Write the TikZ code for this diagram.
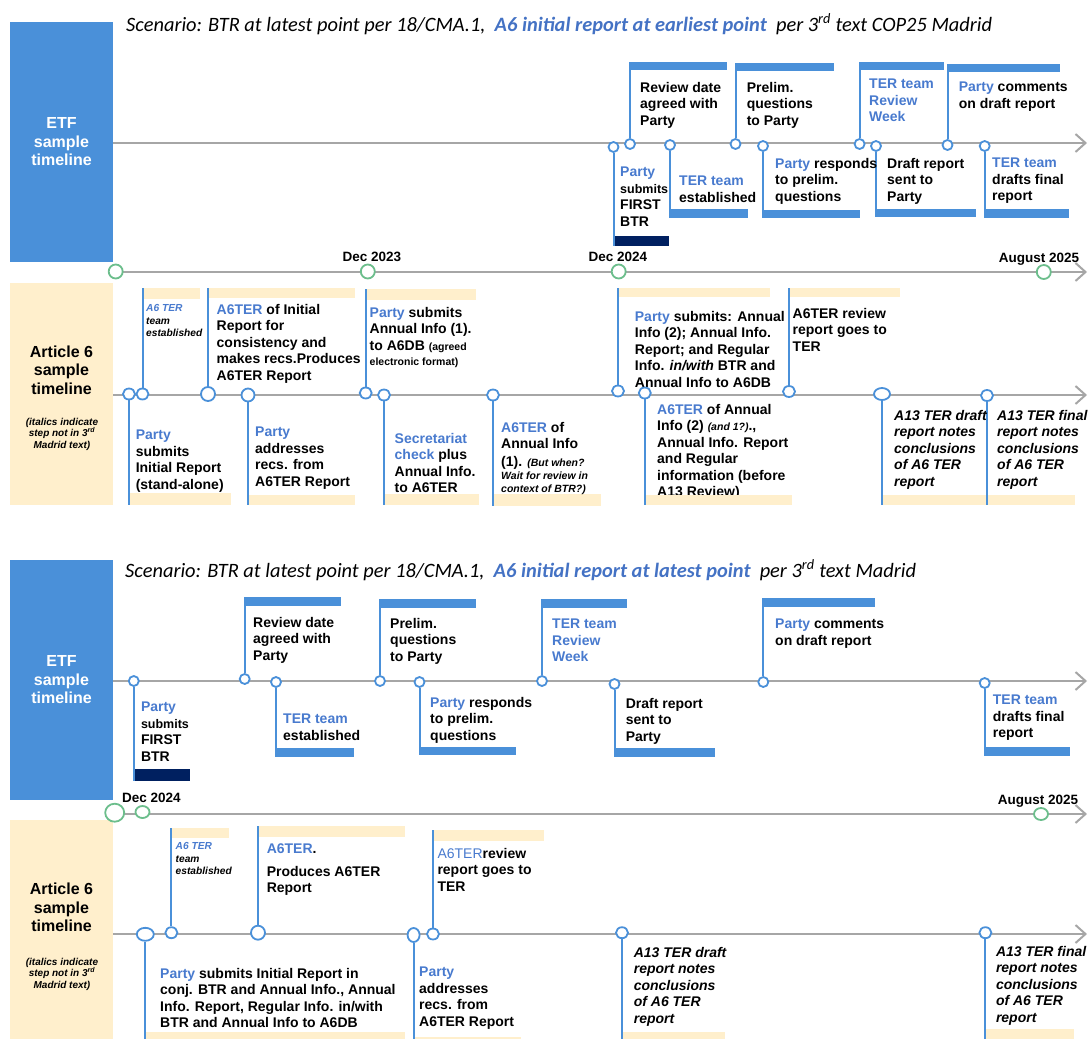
\documentclass[tikz,border=0pt]{standalone}
\usepackage{fontspec}
\setmainfont{Liberation Sans}
\newfontfamily\calib{Carlito}
\usetikzlibrary{arrows.meta,shapes.geometric}
\definecolor{bblue}{RGB}{74,144,217}
\definecolor{pblue}{RGB}{72,122,206}
\definecolor{tblue}{RGB}{68,114,196}
\definecolor{navy}{RGB}{0,32,96}
\definecolor{yel}{RGB}{255,239,204}
\definecolor{lgray}{RGB}{166,166,166}
\definecolor{ggreen}{RGB}{108,190,140}
\newcommand\sm[1]{{\fontsize{10.5}{12}\selectfont #1}}
\newcommand\smi[1]{{\fontsize{10.5}{12}\selectfont\itshape #1}}
% event: name, dot style, x, y, stem end y, bar colour, bar right x, bar other y
\newcommand\ev[8]{%
  \fill[#6] (#3-1,#5) rectangle (#7,#8);
  \node[#2] (#1) at (#3,#4) {};
  \coordinate (#1e) at (#3,#5);
  \draw[stem] (#1) -- (#1e);
}
\begin{document}
\begin{tikzpicture}[x=1pt,y=-1pt,
  tline/.style={draw=lgray,line width=2pt,-{Straight Barb[length=10pt,width=18pt]}},
  dot/.style={circle,draw=bblue,line width=1.8pt,fill=white,minimum size=10pt,inner sep=0pt},
  adot/.style={ellipse,draw=bblue,line width=1.8pt,fill=white,minimum width=12pt,minimum height=11pt,inner sep=0pt},
  gdot/.style={ellipse,draw=ggreen,line width=1.8pt,fill=white,minimum width=14pt,minimum height=14pt,inner sep=0pt},
  stem/.style={draw=bblue,line width=2pt},
  txt/.style={anchor=north west,inner sep=0pt,align=left,font=\bfseries\fontsize{14}{16.5}\selectfont},
  itxt/.style={txt,font=\bfseries\itshape\fontsize{14}{16.5}\selectfont},
  stxt/.style={txt,font=\bfseries\itshape\fontsize{10.2}{12.5}\selectfont},
  lbl/.style={inner sep=0pt,font=\bfseries\fontsize{13.5}{16}\selectfont},
  sidebox/.style={inner sep=0pt,align=center,font=\bfseries\fontsize{16}{18.5}\selectfont},
  notebox/.style={inner sep=0pt,align=center,font=\bfseries\itshape\fontsize{10}{11.5}\selectfont},
  ttl/.style={anchor=base west,inner sep=0pt,font=\calib\fontsize{20.4}{24}\selectfont},
]
\useasboundingbox (0,0) rectangle (1090,1039);

% ================= TOP SCENARIO =================
\node[ttl] (title1) at (126,31.5) {\itshape Scenario: BTR at latest point per 18/CMA.1,\ \ \textcolor{tblue}{\bfseries A6 initial report at earliest point}\ \ per 3\textsuperscript{rd} text COP25 Madrid};

\fill[bblue] (10,22) rectangle (113,262);
\node[sidebox,text=white] (etf1) at (61.5,142) {ETF\\sample\\timeline};
\coordinate (l1s) at (113,143); \coordinate (l1e) at (1087,143);
\draw[tline] (l1s) -- (l1e);

\ev{tA}{dot}{613.5}{147}{246}{navy}{669}{236}
\ev{tB}{dot}{630}{144}{62}{bblue}{727}{70}
\ev{tC}{dot}{670}{145}{218}{bblue}{748}{209}
\ev{tD}{dot}{735.5}{144}{63}{bblue}{833.5}{71}
\ev{tE}{dot}{763}{146}{218}{bblue}{860}{210}
\ev{tF}{dot}{859.6}{144}{62}{bblue}{943.7}{70}
\ev{tG}{dot}{876}{146}{217}{bblue}{976}{209}
\ev{tH}{dot}{947.5}{145}{64}{bblue}{1060}{72}
\ev{tI}{dot}{984.7}{146}{218}{bblue}{1068.8}{209}

\node[txt] (tAt) at (620,167) {\textcolor{pblue}{Party}\\{\fontsize{12.5}{15}\selectfont submits}\\FIRST\\BTR};
\node[txt] (tBt) at (640,82) {Review date\\agreed with\\Party};
\node[txt] (tCt) at (679,176) {\textcolor{pblue}{TER team}\\established};
\node[txt] (tDt) at (746.6,82) {Prelim.\\questions\\to Party};
\node[txt] (tEt) at (775,158) {\textcolor{pblue}{Party} responds\\to prelim.\\questions};
\node[txt,text=pblue] (tFt) at (869,79) {TER team\\Review\\Week};
\node[txt] (tGt) at (887,158) {Draft report\\sent to\\Party};
\node[txt] (tHt) at (958.6,82) {\textcolor{pblue}{Party} comments\\on draft report};
\node[txt] (tIt) at (992,158) {\textcolor{pblue}{TER team}\\drafts final\\report};

% divider 1
\coordinate (d1s) at (115,272); \coordinate (d1e) at (1087,272);
\draw[tline] (d1s) -- (d1e);
\node[gdot] (g1) at (115.7,271.5) {};
\node[gdot] (g2) at (367.8,271.5) {};
\node[gdot] (g3) at (618.7,271.5) {};
\node[gdot] (g4) at (1043.8,272) {};
\node[lbl] (g2l) at (372,257) {Dec 2023};
\node[lbl] (g3l) at (618,257) {Dec 2024};
\node[lbl] (g4l) at (1039,259) {August 2025};

% article 6 (top)
\fill[yel] (10,283) rectangle (113,505);
\node[sidebox] (art1) at (61.5,370) {Article 6\\sample\\timeline};
\node[notebox] (note1) at (62,434) {(italics indicate\\step not in 3\textsuperscript{rd}\\Madrid text)};
\coordinate (a1s) at (113,395); \coordinate (a1e) at (1087,395);
\draw[tline] (a1s) -- (a1e);

\ev{aA}{adot}{129}{394}{505}{yel}{231}{493}
\ev{aB}{adot}{142.5}{394}{288}{yel}{200}{299}
\ev{aC}{adot,minimum width=14pt,minimum height=14pt}{208}{394}{288}{yel}{354.5}{298}
\ev{aD}{adot,minimum width=13pt,minimum height=13pt}{248}{395}{505}{yel}{354.5}{495}
\ev{aE}{adot}{365.7}{393}{289}{yel}{475.5}{300}
\ev{aF}{adot}{384}{395}{505}{yel}{479}{494}
\ev{aG}{adot}{493}{395}{506}{yel}{600.7}{494}
\ev{aH}{adot}{618}{391}{288}{yel}{770}{297}

\node[txt] (aAt) at (135.6,430) {\textcolor{pblue}{Party}\\submits\\Initial Report\\(stand-alone)};
\node[stxt] (aBt) at (146,304.4) {\textcolor{pblue}{A6 TER}\\team\\established};
\node[txt] (aCt) at (216.5,304) {\textcolor{pblue}{A6TER} of Initial\\Report for\\consistency and\\makes recs.Produces\\A6TER Report};
\node[txt] (aDt) at (255,427) {\textcolor{pblue}{Party}\\addresses\\recs. from\\A6TER Report};
\node[txt] (aEt) at (369.5,307) {\textcolor{pblue}{Party} submits\\Annual Info (1).\\to A6DB \sm{(agreed}\\[-1.5pt]\sm{electronic format)}};
\node[txt] (aFt) at (394.5,433) {\textcolor{pblue}{Secretariat}\\\textcolor{pblue}{check} plus\\Annual Info.\\to A6TER};
\node[txt] (aGt) at (501,422) {\textcolor{pblue}{A6TER} of\\Annual Info\\[1.5pt](1). \smi{(But when?}\\[-3.7pt]\smi{Wait for review in}\\[-3.7pt]\smi{context of BTR?)}};
\node[txt] (aHt) at (634.7,311) {\textcolor{pblue}{Party} submits: Annual\\Info (2); Annual Info.\\Report; and Regular\\Info. \textit{in/with} BTR and\\Annual Info to A6DB};
\node[txt] (aIt) at (657,404) {\textcolor{pblue}{A6TER} of Annual\\Info (2) \smi{(and 1?)}.,\\Annual Info. Report\\and Regular\\information (before\\A13 Review)};

\ev{aI}{adot}{644.8}{393}{505}{yel}{791.8}{495}
\ev{aJ}{adot}{789}{391.5}{288}{yel}{899.6}{297}
\ev{aK}{adot,minimum width=16pt,minimum height=12pt}{882}{394}{505}{yel}{987}{495}
\ev{aL}{adot}{987}{395.5}{505}{yel}{1075}{495}

\node[txt] (aJt) at (792.5,307.7) {A6TER review\\report goes to\\TER};
\node[itxt] (aKt) at (894,410) {A13 TER draft\\report notes\\conclusions\\of A6 TER\\report};
\node[itxt] (aLt) at (997,410) {A13 TER final\\report notes\\conclusions\\of A6 TER\\report};

% ================= BOTTOM SCENARIO =================
\node[ttl] (title2) at (125,577.5) {\itshape Scenario: BTR at latest point per 18/CMA.1,\ \ \textcolor{tblue}{\bfseries A6 initial report at latest point}\ \ per 3\textsuperscript{rd} text Madrid};

\fill[bblue] (10,560) rectangle (113,800);
\node[sidebox,text=white] (etf2) at (61.5,680) {ETF\\sample\\timeline};
\coordinate (l2s) at (113,681); \coordinate (l2e) at (1087,681);
\draw[tline] (l2s) -- (l2e);

\ev{bA}{dot}{133.8}{681}{780.7}{navy}{190}{769}
\ev{bB}{dot}{244.7}{679}{597}{bblue}{340.6}{605.7}
\ev{bC}{dot}{276}{682}{756.7}{bblue}{353.5}{748}
\ev{bD}{dot}{380}{681}{599}{bblue}{475.5}{607.7}
\ev{bE}{dot}{419.5}{682}{755}{bblue}{516}{746.7}
\ev{bF}{dot}{542}{681}{599}{bblue}{626.7}{607.7}
\ev{bG}{dot}{614.5}{684}{756.7}{bblue}{714.6}{748}
\ev{bH}{dot}{763.3}{682}{598}{bblue}{874.5}{607}
\ev{bI}{dot}{984.7}{683}{755.7}{bblue}{1069.9}{747}

\node[txt] (bAt) at (140.8,701.7) {\textcolor{pblue}{Party}\\{\fontsize{12.5}{15}\selectfont submits}\\FIRST\\BTR};
\node[txt] (bBt) at (253,616.7) {Review date\\agreed with\\Party};
\node[txt] (bCt) at (283,714) {\textcolor{pblue}{TER team}\\established};
\node[txt] (bDt) at (390,618) {Prelim.\\questions\\to Party};
\node[txt] (bEt) at (430,696.7) {\textcolor{pblue}{Party} responds\\to prelim.\\questions};
\node[txt,text=pblue] (bFt) at (552,619) {TER team\\Review\\Week};
\node[txt] (bGt) at (625.6,698) {Draft report\\sent to\\Party};
\node[txt] (bHt) at (775,618.7) {\textcolor{pblue}{Party} comments\\on draft report};
\node[txt] (bIt) at (992.7,695) {\textcolor{pblue}{TER team}\\drafts final\\report};

% article 6 (bottom)
\fill[yel] (10,820) rectangle (113,1039);
\node[sidebox] (art2) at (61.5,907.6) {Article 6\\sample\\timeline};
\node[notebox] (note2) at (62,974) {(italics indicate\\step not in 3\textsuperscript{rd}\\Madrid text)};

% divider 2
\coordinate (d2s) at (114.7,814); \coordinate (d2e) at (1087,814);
\draw[tline] (d2s) -- (d2e);
\node[gdot,minimum width=19pt,minimum height=18pt] (h1) at (114.7,812.7) {};
\node[gdot,minimum height=12pt] (h2) at (142.5,812) {};
\node[gdot,minimum height=12pt] (h3) at (1041,814) {};
\node[lbl] (h1l) at (151.5,798) {Dec 2024};
\node[lbl] (h3l) at (1038,801.7) {August 2025};

\coordinate (a2s) at (113,934); \coordinate (a2e) at (1087,934);
\draw[tline] (a2s) -- (a2e);

\ev{cA}{adot,minimum width=17pt,minimum height=13pt}{145.3}{934.3}{1039}{yel}{405}{1032}
\ev{cB}{adot}{171.4}{932.7}{828}{yel}{228.7}{838}
\ev{cC}{adot,minimum width=14pt,minimum height=14pt}{258}{932.7}{826}{yel}{405}{836.7}
\ev{cD}{adot,minimum width=12pt,minimum height=14pt}{413.6}{935}{1039}{yel}{520.7}{1036.7}
\ev{cE}{adot}{433}{934}{830}{yel}{544}{840.7}
\ev{cF}{adot}{622}{932.7}{1039}{yel}{725}{1032}
\ev{cG}{adot}{985.4}{932.7}{1039}{yel}{1074}{1029}

\node[txt] (cAt) at (160,968) {\textcolor{pblue}{Party} submits Initial Report in\\conj. BTR and Annual Info., Annual\\Info. Report, Regular Info. in/with\\BTR and Annual Info to A6DB};
\node[stxt] (cBt) at (175.5,842.4) {\textcolor{pblue}{A6 TER}\\team\\established};
\node[txt] (cCt) at (266.6,844) {\textcolor{pblue}{A6TER}.\\[6pt]Produces A6TER\\Report};
\node[txt] (cDt) at (419,966.7) {\textcolor{pblue}{Party}\\addresses\\recs. from\\A6TER Report};
\node[txt] (cEt) at (437.3,848) {\textcolor{pblue}{\mdseries A6TER}review\\report goes to\\TER};
\node[itxt] (cFt) at (633.6,946.7) {A13 TER draft\\report notes\\conclusions\\of A6 TER\\report};
\node[itxt] (cGt) at (995.8,945.7) {A13 TER final\\report notes\\conclusions\\of A6 TER\\report};
\end{tikzpicture}
\end{document}
